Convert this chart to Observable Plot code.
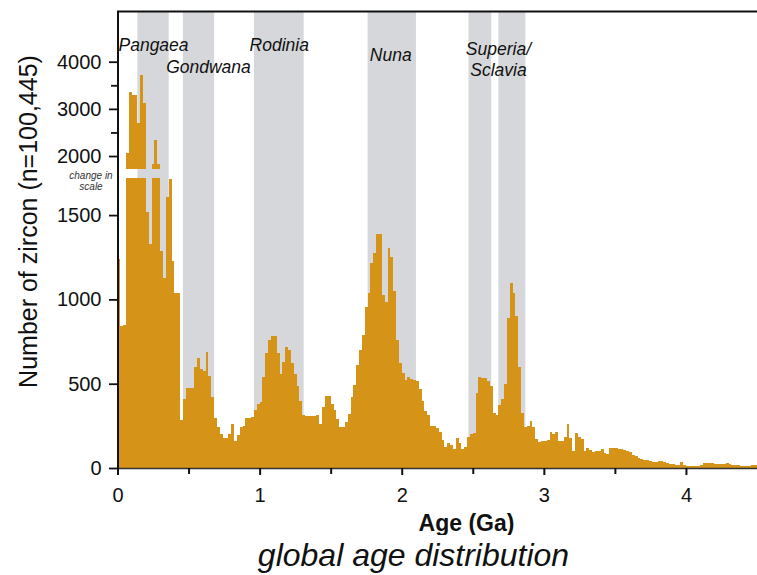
<!DOCTYPE html>
<html><head><meta charset="utf-8">
<script src="https://cdn.jsdelivr.net/npm/d3@7"></script>
<script src="https://cdn.jsdelivr.net/npm/@observablehq/plot@0.6"></script>
<style>
body{margin:0;background:#fff;}
#caption{width:687px;margin-left:70px;text-align:center;font:italic 32px "Liberation Sans",Arial,sans-serif;color:#111;line-height:40px;height:40px;white-space:nowrap;}
</style></head><body><div id="chart"></div><div id="caption">global age distribution</div>
<script>
// Histogram of zircon ages, 20 Myr bins from 0 Ga
const binWidth = 0.02;
const counts = [
  1240, 840, 848, 2057, 3350, 3300, 3290, 2690, 3716, 3129,
  1520, 1326, 1831, 2340, 1831, 1286, 1128, 1608, 1717, 1227,
  1035, 1035, 284, 409, 472, 472, 472, 600, 650, 590,
  575, 690, 545, 420, 296, 245, 200, 176, 176, 200,
  260, 160, 196, 245, 249, 294, 294, 300, 344, 379,
  390, 541, 680, 760, 783, 783, 684, 557, 630, 719,
  700, 620, 557, 486, 400, 314, 308, 308, 308, 308,
  314, 260, 364, 427, 427, 379, 345, 290, 241, 241,
  270, 320, 423, 492, 610, 700, 789, 956, 1036, 1214,
  1273, 1387, 1387, 1026, 986, 1303, 1249, 1050, 760, 620,
  565, 522, 541, 530, 522, 515, 470, 400, 340, 314,
  250, 248, 235, 215, 165, 125, 146, 135, 111, 176,
  150, 111, 126, 186, 200, 206, 443, 538, 535, 532,
  518, 486, 324, 314, 373, 407, 500, 887, 1095, 1040,
  900, 601, 324, 245, 250, 281, 245, 170, 155, 160,
  160, 165, 215, 202, 212, 160, 160, 182, 259, 176,
  101, 206, 182, 170, 101, 120, 107, 97, 103, 103,
  111, 87, 85, 117, 117, 117, 115, 112, 107, 100,
  92, 80, 71, 57, 51, 47, 48, 43, 37, 37,
  40, 42, 37, 30, 25, 22, 18, 18, 37, 18,
  12, 10, 10, 10, 10, 15, 28, 28, 28, 28,
  25, 25, 25, 25, 27, 25, 18, 18, 18, 12,
  12, 12, 12, 18, 18
];
// Supercontinent bands (Ga)
const bandNames = ["Pangaea", "Gondwana", "Rodinia", "Nuna", "Superia", "Sclavia"];
const bandStart = [0.14, 0.46, 0.96, 1.76, 2.47, 2.68];
const bandEnd   = [0.36, 0.68, 1.31, 2.10, 2.63, 2.87];
const bandLabels = ["Pangaea", "Gondwana", "Rodinia", "Nuna", "Superia/\nSclavia"];
// Axis ticks
const xTicks = [0, 1, 2, 3, 4];
const xMinorTicks = [0.5, 1.5, 2.5, 3.5];
const yTicks = [0, 500, 1000, 1500, 2000, 3000, 4000];
const yMinorTicks = [2500, 3500];
// Broken y axis
const breakLow = 1720, breakHigh = 1725, yMax = 5075;

const barColor = "#d59418";
const bandColor = "#d5d7da";
const ink = "#111";

const rows = counts.map((v, i) => ({x1: i * binWidth, x2: (i + 1) * binWidth, v}));
const lower = rows.map(d => ({...d, top: Math.min(d.v, breakLow)}));
const upper = rows.filter(d => d.v > breakHigh);
const bands = bandStart.map((s, i) => ({name: bandNames[i], start: s, end: bandEnd[i]}));
const labelItems = [
  {text: bandLabels[0], x: (bandStart[0] + bandEnd[0]) / 2},
  {text: bandLabels[1], x: (bandStart[1] + bandEnd[1]) / 2},
  {text: bandLabels[2], x: (bandStart[2] + bandEnd[2]) / 2},
  {text: bandLabels[3], x: (bandStart[3] + bandEnd[3]) / 2},
  {text: bandLabels[4], x: (bandStart[4] + bandEnd[5]) / 2}
];
const labelLayout = [{dx: 0, dy: 39}, {dx: 9.5, dy: 61}, {dx: 0, dy: 39.7}, {dx: -1.5, dy: 49}, {dx: 1, dy: 64}];

const chart = Plot.plot({
  width: 757,
  height: 535,
  marginLeft: 117, marginRight: 0, marginTop: 11, marginBottom: 67,
  x: {domain: [0, 4.5], range: [117.5, 757]},
  y: {type: "linear", domain: [0, breakLow, breakHigh, yMax], range: [468, 178, 169, 11]},
  style: {fontFamily: "'Liberation Sans', Arial, sans-serif", color: ink, background: "#fff"},
  marks: [
    Plot.rect(bands, {x1: "start", x2: "end", y1: 0, y2: yMax, fill: bandColor}),
    Plot.rect(lower, {x1: "x1", x2: "x2", y1: 0, y2: "top", fill: barColor, shapeRendering: "crispEdges"}),
    Plot.rect(upper, {x1: "x1", x2: "x2", y1: breakHigh, y2: "v", fill: barColor, shapeRendering: "crispEdges"}),
    Plot.ruleY([0], {stroke: "#333", strokeWidth: 1.5}),
    Plot.ruleY([yMax], {stroke: ink, strokeWidth: 2}),
    Plot.ruleX([0], {stroke: ink, strokeWidth: 2}),
    Plot.axisY({ticks: yTicks, tickSize: 8, tickPadding: 8, fontSize: 20, tickFormat: d => String(d), label: null, strokeWidth: 1.8}),
    Plot.axisY({ticks: yMinorTicks, tickSize: 6, tickFormat: () => "", label: null, strokeWidth: 1.8}),
    Plot.axisX({ticks: xTicks, tickSize: 7, tickPadding: 12, fontSize: 20, tickFormat: d => String(d), label: null, strokeWidth: 2}),
    Plot.axisX({ticks: xMinorTicks, tickSize: 6, tickFormat: () => "", label: null, strokeWidth: 2}),
    Plot.text(["Number of zircon (n=100,445)"], {frameAnchor: "left", textAnchor: "middle", rotate: -90, dx: -89, dy: -18.5, fontSize: 25, fill: ink}),
    Plot.text(["Age (Ga)"], {frameAnchor: "bottom", dx: 29, dy: 62, lineAnchor: "bottom", fontSize: 23, fontWeight: "bold", fill: ink}),
    Plot.text(["change in\nscale"], {frameAnchor: "top-left", textAnchor: "middle", dx: -26.5, dy: 178, lineAnchor: "bottom", fontSize: 10, fontStyle: "italic", lineHeight: 1.1, fill: "#333"}),
    ...labelItems.map((item, i) => Plot.text([item], {
      x: "x", text: "text", frameAnchor: "top", dx: labelLayout[i].dx, dy: labelLayout[i].dy,
      lineAnchor: "bottom", fontSize: 17.5, fontStyle: "italic", lineHeight: 1.18, fill: ink
    }))
  ]
});
document.getElementById("chart").appendChild(chart);
</script>
</body></html>
